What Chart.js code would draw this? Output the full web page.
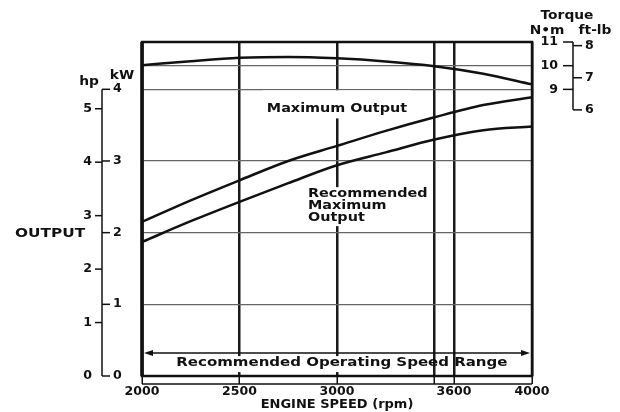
<!DOCTYPE html>
<html>
<head>
<meta charset="utf-8">
<script src="https://cdn.jsdelivr.net/npm/chart.js@4.4.1/dist/chart.umd.min.js"></script>
<style>
  body { margin: 0; background: #fff; }
</style>
</head>
<body>
<canvas id="myChart" width="620" height="412"></canvas>
<script>
const rpm = [2000, 2250, 2500, 2750, 3000, 3250, 3500, 3750, 4000];
// output in kW
const maxOutputKw = [2.15, 2.45, 2.73, 3.00, 3.21, 3.42, 3.61, 3.78, 3.89];
const recOutputKw = [1.87, 2.16, 2.43, 2.69, 2.94, 3.12, 3.30, 3.43, 3.48];
// torque in N·m
const torqueNm = [10.02, 10.19, 10.33, 10.37, 10.31, 10.18, 9.98, 9.66, 9.21];

// tick labels
const rpmTicks = [2000, 2500, 3000, 3500, 3600, 4000];
const kwTicks = [0, 1, 2, 3, 4];
const hpTicks = [0, 1, 2, 3, 4, 5];
const nmTicks = [9, 10, 11];
const ftlbTicks = [6, 7, 8];

const KW_PER_HP = 0.7457;
const NM_PER_FTLB = 1.3558;
const KW_MAX = 4.66;
const NM_MIN = -3.1, NM_MAX = 11;

const FONT = 'DejaVu Sans';
Chart.defaults.font.family = FONT;
Chart.defaults.color = '#111';

function pts(arr) {
  return rpm.map((r, i) => ({ x: r, y: arr[i] }));
}

function txt(ctx, s, x, y, align, sx, size) {
  ctx.save();
  ctx.font = 'bold ' + (size || 12) + 'px "' + FONT + '"';
  ctx.translate(x, y);
  ctx.scale(sx || 1, 1);
  ctx.textAlign = align;
  ctx.textBaseline = 'middle';
  ctx.fillStyle = '#111';
  ctx.fillText(s, 0, 0);
  ctx.restore();
}

function textWidth(ctx, s, sx, size) {
  ctx.save();
  ctx.font = 'bold ' + (size || 12) + 'px "' + FONT + '"';
  const w = ctx.measureText(s).width * (sx || 1);
  ctx.restore();
  return w;
}

// labels, arrow and frame inside the plot
const notes = {
  id: 'notes',
  afterDatasetsDraw(chart) {
    const ctx = chart.ctx;
    const x = chart.scales.x, y = chart.scales.y;
    const a = chart.chartArea;
    ctx.save();

    // Maximum Output
    let cx = x.getPixelForValue(3000), cy = y.getPixelForValue(3.72);
    let w = textWidth(ctx, 'Maximum Output', 1.2);
    ctx.fillStyle = '#fff';
    ctx.fillRect(cx - w / 2 - 4, y.getPixelForValue(4) + 1, w + 8, cy + 9 - y.getPixelForValue(4) - 1);
    txt(ctx, 'Maximum Output', cx, cy, 'center', 1.2);

    // Recommended Maximum Output
    const lx = x.getPixelForValue(2851), my = y.getPixelForValue(2.37);
    w = textWidth(ctx, 'Recommended', 1.2);
    ctx.fillStyle = '#fff';
    ctx.fillRect(lx - 3, my - 19, w + 7, 39);
    txt(ctx, 'Recommended', lx, my - 12, 'left', 1.2);
    txt(ctx, 'Maximum', lx, my, 'left', 1.2);
    txt(ctx, 'Output', lx, my + 12, 'left', 1.2);

    // Recommended Operating Speed Range
    const label = 'Recommended Operating Speed Range';
    cx = x.getPixelForValue(3025);
    cy = y.getPixelForValue(0.18);
    w = textWidth(ctx, label, 1.25);
    const l = cx - w / 2 - 3, r = cx + w / 2 + 3;
    const g1 = x.getPixelForValue(3500) - 2, g2 = x.getPixelForValue(3600) + 2;
    ctx.fillStyle = '#fff';
    ctx.fillRect(l, cy - 7, g1 - l, 16);
    ctx.fillRect(g2, cy - 7, r - g2, 16);
    txt(ctx, label, cx, cy, 'center', 1.25);

    // double arrow
    const ay = y.getPixelForValue(0.32);
    const x0 = a.left + 2, x1 = a.right - 2;
    ctx.strokeStyle = '#111';
    ctx.lineWidth = 1.5;
    ctx.beginPath();
    ctx.moveTo(x0 + 4, ay);
    ctx.lineTo(x1 - 4, ay);
    ctx.stroke();
    ctx.fillStyle = '#111';
    ctx.beginPath();
    ctx.moveTo(x0, ay); ctx.lineTo(x0 + 9, ay - 3); ctx.lineTo(x0 + 9, ay + 3); ctx.closePath();
    ctx.fill();
    ctx.beginPath();
    ctx.moveTo(x1, ay); ctx.lineTo(x1 - 9, ay - 3); ctx.lineTo(x1 - 9, ay + 3); ctx.closePath();
    ctx.fill();

    // frame
    ctx.strokeStyle = '#111';
    ctx.lineWidth = 2.5;
    ctx.strokeRect(a.left, a.top, a.right - a.left, a.bottom - a.top);
    ctx.lineWidth = 3.5;
    ctx.beginPath();
    ctx.moveTo(a.left, a.top);
    ctx.lineTo(a.left, a.bottom);
    ctx.stroke();

    // axis base line under the tick marks
    ctx.lineWidth = 1.5;
    ctx.beginPath();
    ctx.moveTo(a.left, a.bottom + 8);
    ctx.lineTo(a.right, a.bottom + 8);
    ctx.stroke();
    ctx.restore();
  }
};

// hp / kW axis on the left, N·m / ft-lb axis on the right
const sideAxes = {
  id: 'sideAxes',
  afterDraw(chart) {
    const ctx = chart.ctx;
    const s = chart.scales;
    const a = chart.chartArea;
    ctx.save();
    ctx.strokeStyle = '#111';
    ctx.lineWidth = 1.5;

    const ax = a.left - 40;
    const kwTop = s.y.getPixelForValue(4);
    ctx.beginPath();
    ctx.moveTo(ax, kwTop);
    ctx.lineTo(ax, s.y.getPixelForValue(0));
    ctx.stroke();
    kwTicks.forEach(v => {
      const py = s.y.getPixelForValue(v);
      ctx.beginPath(); ctx.moveTo(ax, py); ctx.lineTo(ax + 8, py); ctx.stroke();
      txt(ctx, String(v), ax + 11, py, 'left', 1.05);
    });
    hpTicks.forEach(v => {
      const py = s.hp.getPixelForValue(v);
      if (v > 0) {
        ctx.beginPath(); ctx.moveTo(ax - 7, py); ctx.lineTo(ax, py); ctx.stroke();
      }
      txt(ctx, String(v), ax - 10, py, 'right', 1.05);
    });
    txt(ctx, 'hp', ax - 13, kwTop - 7, 'center', 1.15);
    txt(ctx, 'kW', ax + 20, kwTop - 13, 'center', 1.15);
    txt(ctx, 'OUTPUT', ax - 52, s.y.getPixelForValue(2) + 1, 'center', 1.28);

    const tx = a.right + 41;
    const tTop = s.nm.getPixelForValue(11);
    ctx.beginPath();
    ctx.moveTo(tx, tTop);
    ctx.lineTo(tx, s.ftlb.getPixelForValue(6));
    ctx.stroke();
    nmTicks.forEach(v => {
      const py = s.nm.getPixelForValue(v);
      ctx.beginPath(); ctx.moveTo(tx - 10, py); ctx.lineTo(tx, py); ctx.stroke();
      txt(ctx, String(v), tx - 15, py, 'right', 1.05);
    });
    ftlbTicks.forEach(v => {
      const py = s.ftlb.getPixelForValue(v);
      ctx.beginPath(); ctx.moveTo(tx, py); ctx.lineTo(tx + 9, py); ctx.stroke();
      txt(ctx, String(v), tx + 12, py, 'left', 1.05);
    });
    txt(ctx, 'Torque', tx - 6, tTop - 26, 'center', 1.15);
    txt(ctx, 'N•m', tx - 26, tTop - 11, 'center', 1.15);
    txt(ctx, 'ft-lb', tx + 22, tTop - 11, 'center', 1.15);
    ctx.restore();
  }
};

const lineStyle = {
  borderColor: '#111',
  borderWidth: 2.5,
  pointRadius: 0,
  fill: false,
  cubicInterpolationMode: 'monotone'
};

const ctx = document.getElementById('myChart').getContext('2d');
const myChart = new Chart(ctx, {
  type: 'line',
  data: {
    datasets: [
      Object.assign({ label: 'Torque', data: pts(torqueNm), yAxisID: 'nm' }, lineStyle),
      Object.assign({ label: 'Maximum Output', data: pts(maxOutputKw), yAxisID: 'y' }, lineStyle),
      Object.assign({ label: 'Recommended Maximum Output', data: pts(recOutputKw), yAxisID: 'y' }, lineStyle)
    ]
  },
  options: {
    responsive: false,
    animation: false,
    layout: { padding: { left: 142, right: 88, top: 42, bottom: 0.5 } },
    plugins: {
      legend: { display: false },
      tooltip: { enabled: false }
    },
    scales: {
      x: {
        type: 'linear',
        min: 2000,
        max: 4000,
        afterBuildTicks: axis => { axis.ticks = rpmTicks.map(v => ({ value: v })); },
        ticks: {
          autoSkip: false,
          maxRotation: 0,
          padding: 1,
          color: '#111',
          font: { size: 12.5, weight: 'bold', lineHeight: 1 },
          callback: v => (v === 3500 ? '' : String(v))
        },
        grid: { color: '#1a1a1a', lineWidth: 2.5, tickLength: 8, tickColor: '#111', tickWidth: 1.5 },
        border: { display: false },
        title: {
          display: true,
          text: 'ENGINE SPEED (rpm)',
          color: '#111',
          padding: 0,
          font: { size: 13, weight: 'bold', lineHeight: 1 }
        }
      },
      y: {
        type: 'linear',
        position: 'left',
        min: 0,
        max: KW_MAX,
        afterBuildTicks: axis => { axis.ticks = kwTicks.map(v => ({ value: v })); },
        ticks: { display: false },
        grid: { color: '#666', lineWidth: 1.3, drawTicks: false },
        border: { display: false }
      },
      hp: {
        type: 'linear',
        axis: 'y',
        position: 'left',
        display: false,
        min: 0,
        max: KW_MAX / KW_PER_HP
      },
      nm: {
        type: 'linear',
        axis: 'y',
        position: 'right',
        min: NM_MIN,
        max: NM_MAX,
        afterBuildTicks: axis => { axis.ticks = [{ value: 10 }]; },
        ticks: { display: false },
        grid: { color: '#666', lineWidth: 1.3, drawTicks: false },
        border: { display: false }
      },
      ftlb: {
        type: 'linear',
        axis: 'y',
        position: 'right',
        display: false,
        min: NM_MIN / NM_PER_FTLB,
        max: NM_MAX / NM_PER_FTLB
      }
    }
  },
  plugins: [notes, sideAxes]
});
</script>
</body>
</html>
